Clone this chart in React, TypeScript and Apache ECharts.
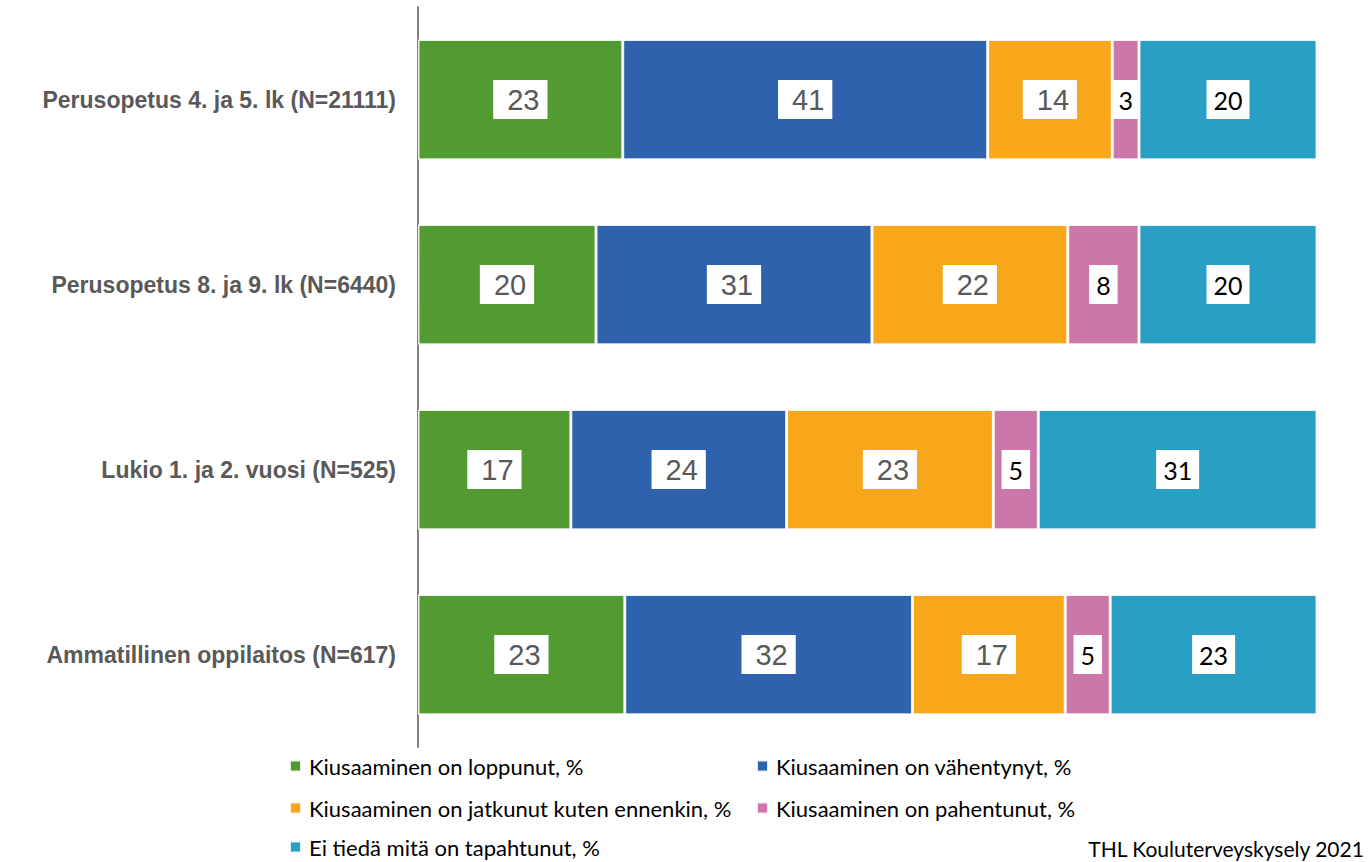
import React, { useEffect, useRef } from "react";
import * as echarts from "echarts";

const categories = [
  "Perusopetus 4. ja 5. lk (N=21111)",
  "Perusopetus 8. ja 9. lk (N=6440)",
  "Lukio 1. ja 2. vuosi (N=525)",
  "Ammatillinen oppilaitos (N=617)",
];

const seriesNames = [
  "Kiusaaminen on loppunut, %",
  "Kiusaaminen on vähentynyt, %",
  "Kiusaaminen on jatkunut kuten ennenkin, %",
  "Kiusaaminen on pahentunut, %",
  "Ei tiedä mitä on tapahtunut, %",
];

const loppunut = [23, 20, 17, 23];
const vahentynyt = [41, 31, 24, 32];
const jatkunut = [14, 22, 23, 17];
const pahentunut = [3, 8, 5, 5];
const eiTieda = [20, 20, 31, 23];

const seriesValues = [loppunut, vahentynyt, jatkunut, pahentunut, eiTieda];
const colors = ["#529B30", "#2F62AD", "#F9A71A", "#CC77AA", "#29A0C3"];
const labelDark = [false, false, false, true, true];

export default function App() {
  const ref = useRef<HTMLDivElement>(null);
  useEffect(() => {
    if (!ref.current) return;
    const chart = echarts.init(ref.current, null, { renderer: "svg" });
    const totals = categories.map((_, i) =>
      seriesValues.reduce((s, arr) => s + arr[i], 0)
    );
    const series = seriesNames.map((name, si) => ({
      name,
      type: "bar",
      stack: "total",
      barCategoryGap: "35%",
      data: seriesValues[si].map((v, i) => (v / totals[i]) * 100),
      itemStyle: {
        color: colors[si],
        borderColor: "rgba(255,255,255,0.85)",
        borderWidth: 1.5,
      },
      label: {
        show: true,
        position: "inside",
        formatter: (p: any) => String(seriesValues[si][p.dataIndex]),
        backgroundColor: "#ffffff",
        ...(labelDark[si]
          ? {
              color: "#000000",
              fontFamily: "Lato",
              fontSize: 25,
              lineHeight: 31,
              padding: [4, 7, 4, 7],
            }
          : {
              color: "#595959",
              fontFamily: "Liberation Sans",
              fontSize: 29,
              lineHeight: 31,
              padding: [4, 8, 4, 14],
            }),
      },
    }));
    const legendText = {
      fontFamily: "Lato",
      fontSize: 22,
      lineHeight: 22,
      color: "#000000",
      padding: [0, 0, 0, 3],
    };
    // legend slots: [seriesIndex, left, top]
    const legendSlots: [number, number, number][] = [
      [0, 289, 755],
      [1, 756, 755],
      [2, 289, 797],
      [3, 756, 797],
      [4, 289, 836],
    ];
    const legends = legendSlots.map(([si, left, top]) => ({
      orient: "horizontal",
      left,
      top,
      padding: 0,
      itemWidth: 11,
      itemHeight: 11,
      icon: "rect",
      data: [seriesNames[si]],
      textStyle: legendText,
    }));
    chart.setOption({
      animation: false,
      color: colors,
      grid: { left: 418, right: 51, top: 7, height: 740, containLabel: false },
      xAxis: { type: "value", min: 0, max: 100, show: false },
      yAxis: {
        type: "category",
        data: categories,
        inverse: true,
        axisLine: { show: true, lineStyle: { color: "#808080", width: 2 } },
        axisTick: { show: false },
        axisLabel: {
          margin: 22,
          fontFamily: "Liberation Sans",
          fontWeight: "bold",
          fontSize: 23,
          color: "#595959",
        },
      },
      legend: legends,
      graphic: [
        {
          type: "text",
          right: 3,
          top: 838,
          style: {
            text: "THL Kouluterveyskysely 2021",
            fontFamily: "Lato",
            fontSize: 21,
            fill: "#000000",
          },
        },
      ],
      series,
    });
    return () => chart.dispose();
  }, []);
  return (
    <div
      ref={ref}
      style={{ position: "fixed", left: 0, top: 0, width: "1368px", height: "862px", background: "#fff" }}
    />
  );
}
